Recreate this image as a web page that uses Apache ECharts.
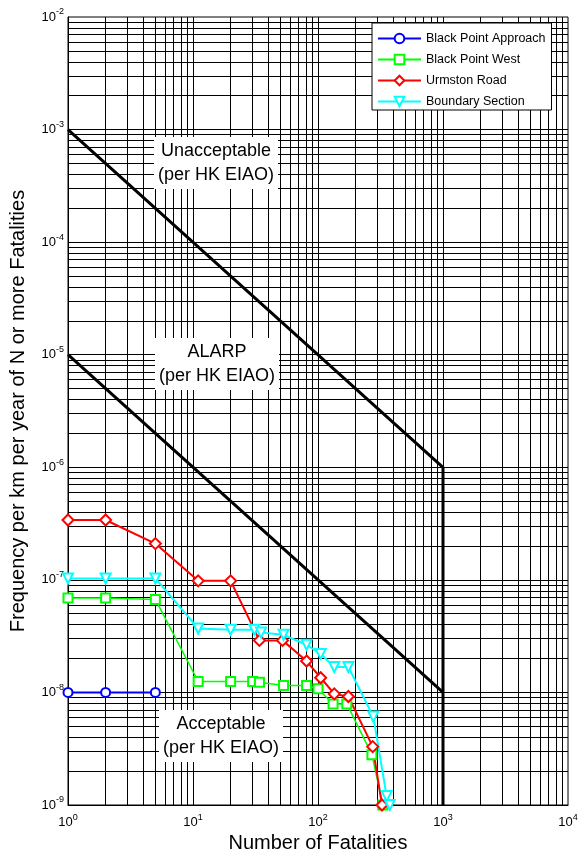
<!DOCTYPE html>
<html><head><meta charset="utf-8">
<script src="https://cdn.jsdelivr.net/npm/echarts@6/dist/echarts.min.js"></script>
<style>html,body{margin:0;padding:0;background:#fff}#c{width:580px;height:855px}</style>
</head><body><div id="c"></div>
<script>
// ---- data ----
const seriesNames = ['Black Point Approach', 'Black Point West', 'Urmston Road', 'Boundary Section'];
const bpaX = [1, 2, 5];
const bpaY = [1e-8, 1e-8, 1e-8];
const bpwX = [1, 2, 5, 11, 20, 30, 34, 53, 81, 100, 132, 170, 270, 330];
const bpwY = [6.9e-8, 6.9e-8, 6.7e-8, 1.25e-8, 1.25e-8, 1.25e-8, 1.23e-8, 1.15e-8, 1.15e-8, 1.08e-8, 7.9e-9, 7.9e-9, 2.8e-9, 1e-9];
const urX = [1, 2, 5, 11, 20, 34, 52, 81, 105, 135, 175, 274, 325];
const urY = [3.4e-7, 3.4e-7, 2.1e-7, 9.8e-8, 9.8e-8, 2.9e-8, 2.9e-8, 1.9e-8, 1.35e-8, 9.7e-9, 9.2e-9, 3.3e-9, 1e-9];
const bsX = [1, 2, 5, 11, 20, 31, 35, 53, 81, 105, 135, 175, 277, 354, 375];
const bsY = [1.03e-7, 1.03e-7, 1.03e-7, 3.7e-8, 3.6e-8, 3.6e-8, 3.4e-8, 3.25e-8, 2.65e-8, 2.2e-8, 1.68e-8, 1.68e-8, 6.1e-9, 1.2e-9, 1e-9];
const unaccX = [1, 1000, 1000];
const unaccY = [1e-3, 1e-6, 1e-9];
const alarpX = [1, 1000];
const alarpY = [1e-5, 1e-8];
const xDecades = [1, 10, 100, 1000];
const yDecades = [1e-9, 1e-8, 1e-7, 1e-6, 1e-5, 1e-4, 1e-3];
const gridMult = [1, 2, 3, 4, 5, 6, 7, 8, 9];
const xMin = 1, xMax = 1e4, yMin = 1e-9, yMax = 1e-2;
const xTitle = 'Number of Fatalities';
const yTitle = 'Frequency per km per year of N or more Fatalities';
const zoneLabels = ['Unacceptable\n(per HK EIAO)', 'ALARP\n(per HK EIAO)', 'Acceptable\n(per HK EIAO)'];

// ---- build ----
const FONT = '"Liberation Sans", Arial, sans-serif';
const zip = (xs, ys) => xs.map((x, i) => [x, ys[i]]);
const xGrid = [];
xDecades.forEach(d => gridMult.forEach(m => xGrid.push(d * m)));
const yGrid = [];
yDecades.forEach(d => gridMult.forEach(m => yGrid.push(parseFloat((d * m).toPrecision(3)))));

const supFmt = v => {
  const e = Math.round(Math.log10(v));
  return '{b|10}{s|' + e + '}';
};
const rich = {
  b: { fontSize: 13, fontFamily: FONT, color: '#000' },
  s: { fontSize: 9, fontFamily: FONT, color: '#000', padding: [0, 0, 10, 0] }
};

const mkSeries = (name, xs, ys, color, symbol, size, rotate, width) => ({
  name, type: 'line', data: zip(xs, ys),
  symbol, symbolSize: size, symbolRotate: rotate || 0,
  lineStyle: { color, width: width },
  itemStyle: { color, borderColor: color, borderWidth: 1.5 },
  z: 5, animation: false, clip: true,
  emphasis: { disabled: true }
});

const gridLines = xGrid.map(v => [{ coord: [v, yMin] }, { coord: [v, yMax] }])
  .concat(yGrid.map(v => [{ coord: [xMin, v] }, { coord: [xMax, v] }]));

const chart = echarts.init(document.getElementById('c'));
chart.setOption({
  animation: false,
  backgroundColor: '#fff',
  grid: { left: 68, right: 12, top: 17, bottom: 50, containLabel: false, outerBoundsMode: 'none', show: true, borderColor: '#000', borderWidth: 1, backgroundColor: 'transparent' },
  xAxis: {
    type: 'log', logBase: 10, min: xMin, max: xMax, interval: 1,
    name: xTitle, nameLocation: 'middle', nameGap: 28,
    nameTextStyle: { fontSize: 20, fontFamily: FONT, color: '#000' },
    axisLine: { show: true, lineStyle: { color: '#000', width: 1 } },
    axisTick: { show: false },
    splitLine: { show: false },
    axisLabel: { formatter: supFmt, rich, margin: 8 }
  },
  yAxis: {
    type: 'log', logBase: 10, min: yMin, max: yMax, interval: 1,
    name: yTitle, nameLocation: 'middle', nameGap: 40,
    nameTextStyle: { fontSize: 20, fontFamily: FONT, color: '#000' },
    axisLine: { show: true, lineStyle: { color: '#000', width: 1 } },
    axisTick: { show: false },
    splitLine: { show: false },
    axisLabel: { formatter: supFmt, rich, margin: 4 }
  },
  legend: {
    data: seriesNames, orient: 'vertical', left: 372, top: 23, width: 191,
    backgroundColor: '#fff', borderColor: '#000', borderWidth: 1,
    padding: [9, 6, 2, 5], itemGap: 8, itemWidth: 43, itemHeight: 12,
    textStyle: { fontSize: 12.5, fontFamily: FONT, color: '#000' },
    z: 20
  },
  graphic: [
    { type: 'text', z: 100, style: { text: zoneLabels[0], x: 216, y: 163, align: 'center', verticalAlign: 'middle', fontSize: 18, fontFamily: FONT, fill: '#000', backgroundColor: '#fff', padding: [2, 4], lineHeight: 24 } },
    { type: 'text', z: 100, style: { text: zoneLabels[1], x: 217, y: 364, align: 'center', verticalAlign: 'middle', fontSize: 18, fontFamily: FONT, fill: '#000', backgroundColor: '#fff', padding: [2, 4], lineHeight: 24 } },
    { type: 'text', z: 100, style: { text: zoneLabels[2], x: 221, y: 736, align: 'center', verticalAlign: 'middle', fontSize: 18, fontFamily: FONT, fill: '#000', backgroundColor: '#fff', padding: [2, 4], lineHeight: 24 } }
  ],
  series: [
    {
      name: 'grid', type: 'line', data: [], z: 1, silent: true, animation: false,
      markLine: {
        silent: true, animation: false, symbol: ['none', 'none'],
        label: { show: false },
        lineStyle: { color: '#000', width: 1, type: 'solid' },
        emphasis: { disabled: true },
        data: gridLines
      }
    },
    { name: 'unacc', type: 'line', data: zip(unaccX, unaccY), symbol: 'none', lineStyle: { color: '#000', width: 3 }, z: 3, animation: false, silent: true },
    { name: 'alarp', type: 'line', data: zip(alarpX, alarpY), symbol: 'none', lineStyle: { color: '#000', width: 3 }, z: 3, animation: false, silent: true },
    mkSeries(seriesNames[0], bpaX, bpaY, '#0000ff', 'emptyCircle', 9, 0, 2),
    mkSeries(seriesNames[1], bpwX, bpwY, '#00ff00', 'emptyRect', 9, 0, 1.5),
    mkSeries(seriesNames[2], urX, urY, '#ff0000', 'emptyDiamond', 11, 0, 2),
    mkSeries(seriesNames[3], bsX, bsY, '#00ffff', 'emptyTriangle', 10, 180, 2)
  ]
});
</script>
</body></html>
